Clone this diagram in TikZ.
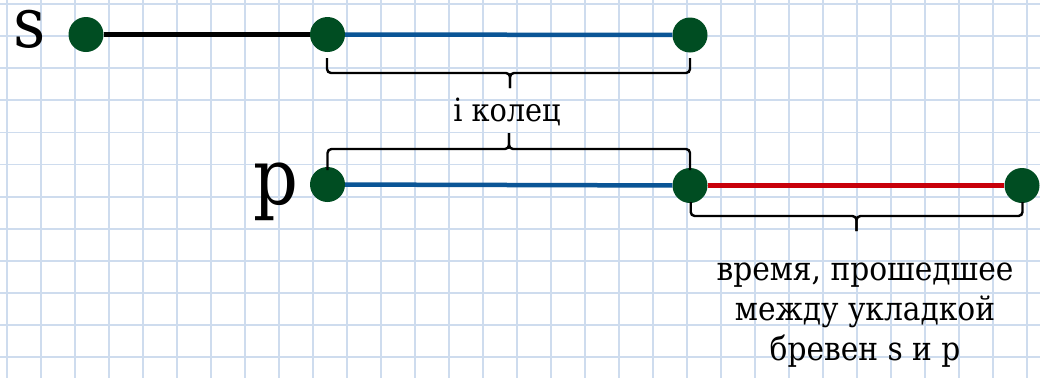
\documentclass[tikz,border=0pt]{standalone}
\usepackage{fontspec}
\setmainfont{DejaVu Serif Condensed}
\begin{document}
\begin{tikzpicture}[x=1pt,y=-1pt,
  gridline/.style={draw=gridblue,line width=1.8pt},
  dot/.style={circle,fill=dkgreen,minimum size=35pt,inner sep=0pt},
  seg/.style={line width=4.5pt},
  bracepath/.style={draw=black,line width=2.4pt,rounded corners=4pt},
  lbl/.style={font=\fontsize{33}{40}\selectfont,inner sep=0pt}]
\definecolor{gridblue}{HTML}{CEDCEE}
\definecolor{dkgreen}{HTML}{004D22}
\definecolor{segblue}{HTML}{0A5596}
\definecolor{segred}{HTML}{C8000A}
\useasboundingbox (0,0) rectangle (1040,378);
\fill[white] (0,0) rectangle (1040,378);
\foreach \i in {0,...,30} \draw[gridline] ({6.7+34*\i},0) -- ({6.7+34*\i},378);
\foreach \j in {0,...,11} \draw[gridline] (0,{4+32.1*\j}) -- (1040,{4+32.1*\j});
% dots
\node[dot] (s1) at (86,34.5) {};
\node[dot] (s2) at (327.5,34.5) {};
\node[dot] (s3) at (690,35) {};
\node[dot] (p1) at (327.5,184.5) {};
\node[dot] (p2) at (690,185.5) {};
\node[dot] (p3) at (1022,185.5) {};
% segments
\draw[seg,black] (s1) -- (s2);
\draw[seg,segblue] (s2) -- (s3);
\draw[seg,segblue] (p1) -- (p2);
\draw[seg,segred] (p2) -- (p3);
% braces
\coordinate (b1) at (510,73);
\draw[bracepath] (327,58) -- (327,73) -- (b1) -- (510,88);
\draw[bracepath] (690,58) -- (690,73) -- (b1) -- (510,88);
\coordinate (b2) at (509,149);
\draw[bracepath] (327.5,170) -- (327.5,149) -- (b2) -- (509,133);
\draw[bracepath] (690,170) -- (690,149) -- (b2) -- (509,133);
\coordinate (b3) at (856.5,216);
\draw[bracepath] (690.7,202) -- (690.7,216) -- (b3) -- (856.5,231);
\draw[bracepath] (1022.5,202) -- (1022.5,216) -- (b3) -- (856.5,231);
% labels
\node[font=\fontsize{70}{70}\selectfont,inner sep=0pt,anchor=base] (ls) at (30,47) {s};
\node[font=\fontsize{78}{78}\selectfont,inner sep=0pt,anchor=base] (lp) at (275.5,204) {p};
\node[lbl,font=\fontsize{32}{40}\selectfont,anchor=base] (lk) at (507,121) {i колец};
\node[lbl,align=center,anchor=center] (lt) at (865,315) {время, прошедшее\\между укладкой\\бревен s и p};
\end{tikzpicture}
\end{document}
